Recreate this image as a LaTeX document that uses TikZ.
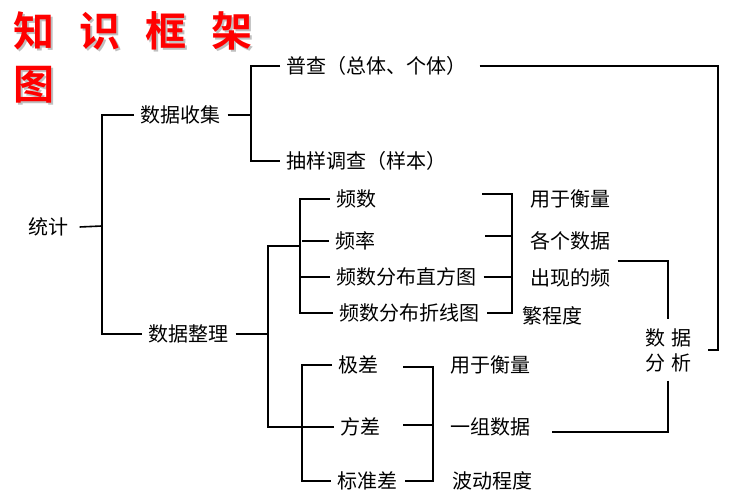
\documentclass[tikz,border=0pt]{standalone}
\usepackage{fontspec}
\usepackage{tikz}
\newfontfamily\cjk{Noto Sans CJK SC}
\newfontfamily\cjkbold{Noto Sans CJK SC Bold}

\begin{document}
\begin{tikzpicture}[x=0.5pt, y=-0.5pt, line width=0.8pt,
	lbl/.style={anchor=west, inner sep=3pt, font=\cjk\fontsize{10}{12}\selectfont}]
\useasboundingbox (0,0) rectangle (739,501);
% title
\node (titleshadow) [anchor=north west, inner sep=0, align=left, text=black!25,
	font=\cjkbold\fontsize{20.5}{26.5}\selectfont] at (14.5,12.5) {知\hspace{12.5pt}识\hspace{12.5pt}框\hspace{12.5pt}架\\图};
\node (title) [anchor=north west, inner sep=0, align=left, text=red,
	font=\cjkbold\fontsize{20.5}{26.5}\selectfont] at (13,11) {知\hspace{12.5pt}识\hspace{12.5pt}框\hspace{12.5pt}架\\图};

% left part
\node (tongji) [lbl] at (22,227) {统计};
\node (sjsj) [lbl] at (134,115) {数据收集};
\node (sjzl) [lbl] at (142,334) {数据整理};
\node (puca) [lbl] at (280,66) {普查（总体、个体）};
\node (chouyang) [lbl] at (280,161) {抽样调查（样本）};
\coordinate (c1) at (102,226);
\coordinate (c2) at (251,115);
\draw ([xshift=2pt]tongji.east) -- (c1);
\draw (sjsj.west) -| (c1) |- (sjzl.west);
\draw (sjsj.east) -- (c2);
\draw (puca.west) -| (c2) |- (chouyang.west);

% frequencies
\node (pinshu) [lbl] at (330,199) {频数};
\node (pinlv) [lbl] at (329,241) {频率};
\node (zhifang) [lbl] at (330,277) {频数分布直方图};
\node (zhexian) [lbl] at (333,313) {频数分布折线图};
\node (yong1) [lbl] at (524,199) {用于衡量};
\node (gege) [lbl] at (524,241) {各个数据};
\node (chuxian) [lbl] at (524,278) {出现的频};
\node (fanchengdu) [lbl] at (516,316) {繁程度};

% spread
\node (jicha) [lbl] at (332,365) {极差};
\node (fangcha) [lbl] at (334,427) {方差};
\node (biaozhun) [lbl] at (331,481) {标准差};
\node (yong2) [lbl] at (444,365) {用于衡量};
\node (yizu) [lbl] at (444,427) {一组数据};
\node (bodong) [lbl] at (446,481) {波动程度};

\node (fenxi) [align=center, inner xsep=8pt, inner ysep=4pt, font=\cjk\fontsize{10}{12.5}\selectfont] at (668,350) {数\hspace{3pt}据\\分\hspace{3pt}析};

\coordinate (zl) at (268,334);
\coordinate (g1) at (300,246);
\coordinate (g2) at (302,427);
\draw (sjzl.east) -- (zl);
\draw (g1) -| (zl) |- (g2);
\draw (pinshu.west) -| (g1) |- (zhexian.west);
\draw (pinlv.west) -- ++(-27,0);
\draw (zhifang.west) -- (zhifang.west -| g1);
\draw (jicha.west) -| (g2) |- (biaozhun.west);
\draw (fangcha.west) -- (g2);

% brackets
\coordinate (b1) at (482,194);
\coordinate (b2) at (485,236);
\coordinate (b3) at (512,194);
\draw (b1) -- (b3) |- (zhexian.east);
\draw (b2) -- (b2 -| b3);
\draw (zhifang.east) -- (zhifang.east -| b3);
\coordinate (d1) at (403,367);
\coordinate (d2) at (403,425);
\coordinate (d3) at (433,367);
\draw (d1) -- (d3) |- (biaozhun.east);
\draw (d2) -- (d2 -| d3);

% to analysis
\coordinate (r1) at (718,350);
\draw (puca.east) ++(6,0) -| (r1) -- (fenxi.east);
\draw ([yshift=8.5pt]chuxian.east) -| (fenxi.north);
\draw (fenxi.south) |- ([xshift=7pt,yshift=-2.5pt]yizu.east);
\end{tikzpicture}
\end{document}
